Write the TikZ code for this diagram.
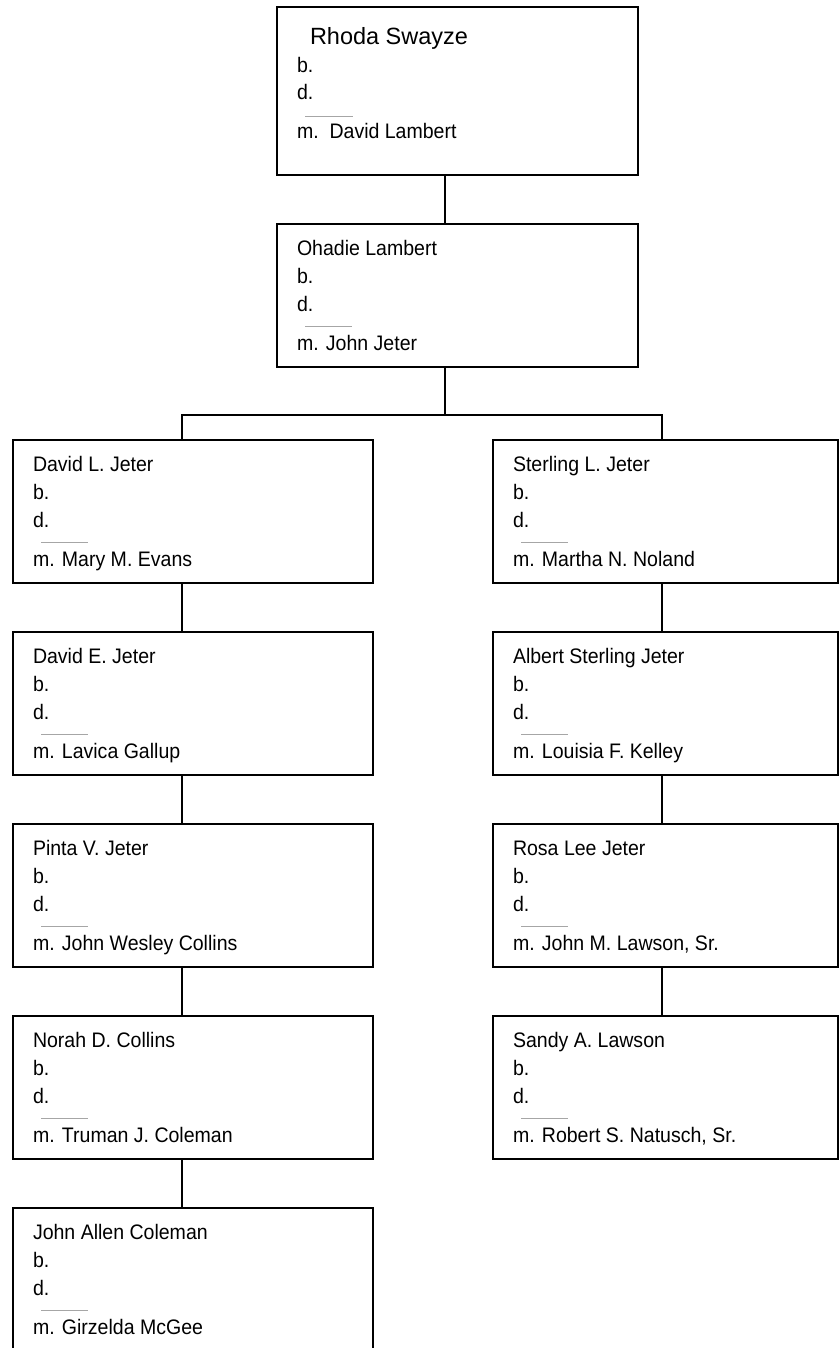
\documentclass[tikz,border=0pt]{standalone}
\usepackage{fontspec}
\setmainfont{Liberation Sans}
\newfontfamily\narrowsans[FakeStretch=0.93]{Liberation Sans}
\tikzset{
  x=1pt, y=-1pt,
  box/.style={draw=black, line width=1.3pt, rectangle, inner sep=0pt, outer sep=0pt, anchor=north west},
  txt/.style={anchor=base west, inner sep=0pt, outer sep=0pt, font=\narrowsans\fontsize{21}{25}\selectfont},
  bigtxt/.style={anchor=base west, inner sep=0pt, outer sep=0pt, font=\fontsize{23.5}{28}\selectfont},
  sepline/.style={draw=black!35, line width=0.8pt},
  link/.style={draw=black, line width=1.3pt},
}
% #1 node name, #2 left x, #3 top y, #4 width, #5 person, #6 spouse line
\newcommand\personnode[6]{%
  \node[box, minimum width=#4pt, minimum height=143pt] (#1) at (#2,#3) {};
  \node[txt] (#1-name) at ({#2+20},{#3+31.7}) {#5};
  \node[txt] (#1-b) at ({#2+20},{#3+59.3}) {b.};
  \node[txt] (#1-d) at ({#2+20},{#3+87.7}) {d.};
  \draw[sepline] ({#2+28},{#3+102.7}) -- ({#2+75},{#3+102.7});
  \node[txt] (#1-m) at ({#2+20},{#3+126.7}) {#6};
}
\begin{document}
\begin{tikzpicture}
\useasboundingbox (0,0) rectangle (839,1348);

% top person
\node[box, minimum width=361pt, minimum height=168pt] (rhoda) at (277,7) {};
\node[bigtxt] (rhoda-name) at (310,45) {Rhoda Swayze};
\node[txt] (rhoda-b) at (297,73) {b.};
\node[txt] (rhoda-d) at (297,100) {d.};
\draw[sepline] (305,116.7) -- (353,116.7);
\node[txt] (rhoda-m) at (297,138.3) {m.\ \ David Lambert};

\personnode{ohadie}{277}{224}{361}{Ohadie Lambert}{m. John Jeter}

% left column
\personnode{davidl}{13}{440}{360}{David L. Jeter}{m. Mary M. Evans}
\personnode{davide}{13}{632}{360}{David E. Jeter}{m. Lavica Gallup}
\personnode{pinta}{13}{824}{360}{Pinta V. Jeter}{m. John Wesley Collins}
\personnode{norah}{13}{1016}{360}{Norah D. Collins}{m. Truman J. Coleman}
\personnode{johna}{13}{1208}{360}{John Allen Coleman}{m. Girzelda McGee}

% right column
\personnode{sterling}{493}{440}{345}{Sterling L. Jeter}{m. Martha N. Noland}
\personnode{albert}{493}{632}{345}{Albert Sterling Jeter}{m. Louisia F. Kelley}
\personnode{rosa}{493}{824}{345}{Rosa Lee Jeter}{m. John M. Lawson, Sr.}
\personnode{sandy}{493}{1016}{345}{Sandy A. Lawson}{m. Robert S. Natusch, Sr.}

% connector anchors
\coordinate (trunk) at (445,0);
\coordinate (lcol) at (182,0);
\coordinate (rcol) at (662,0);
\coordinate (fork) at (445,415);

\draw[link] (rhoda.south -| trunk) -- (ohadie.north -| trunk);
\draw[link] (ohadie.south -| trunk) -- (fork);
\draw[link] (davidl.north -| lcol) -- (fork -| lcol) -- (fork -| rcol) -- (sterling.north -| rcol);

\draw[link] (davidl.south -| lcol) -- (davide.north -| lcol);
\draw[link] (davide.south -| lcol) -- (pinta.north -| lcol);
\draw[link] (pinta.south -| lcol) -- (norah.north -| lcol);
\draw[link] (norah.south -| lcol) -- (johna.north -| lcol);

\draw[link] (sterling.south -| rcol) -- (albert.north -| rcol);
\draw[link] (albert.south -| rcol) -- (rosa.north -| rcol);
\draw[link] (rosa.south -| rcol) -- (sandy.north -| rcol);
\end{tikzpicture}
\end{document}
